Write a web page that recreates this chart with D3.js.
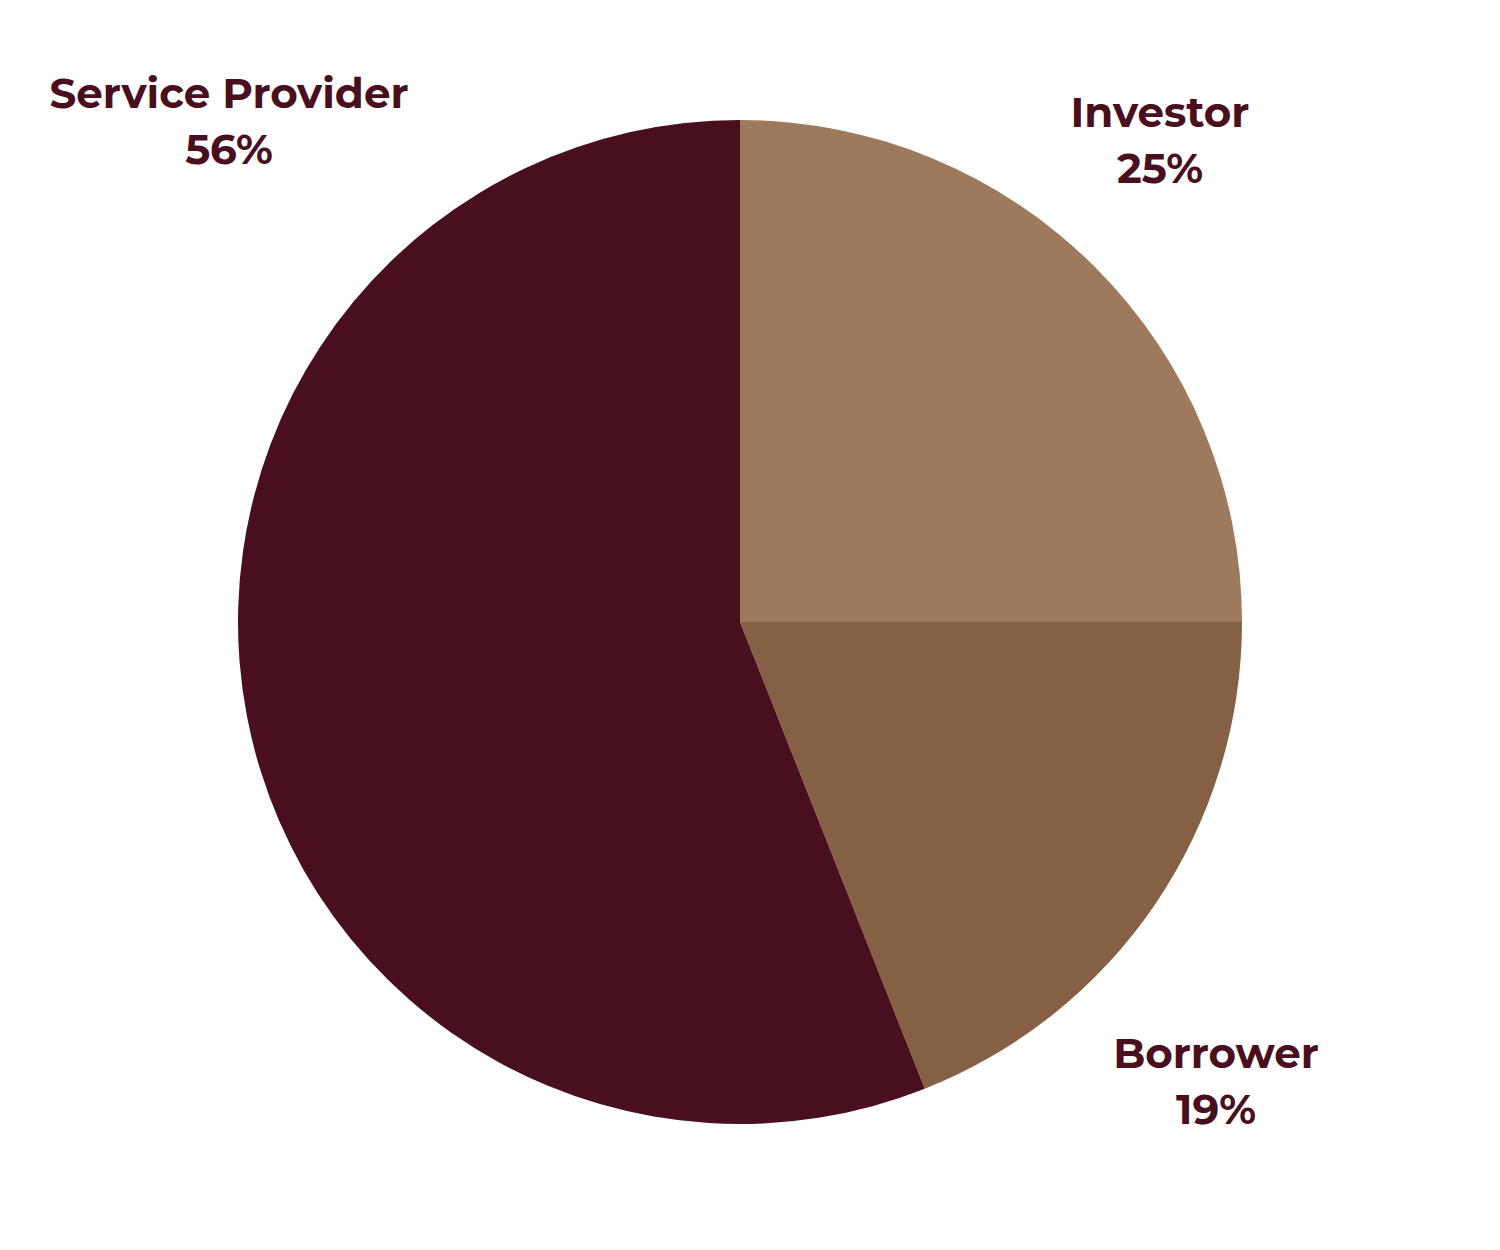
<!DOCTYPE html>
<html><head><meta charset="utf-8">
<script src="https://cdn.jsdelivr.net/npm/d3@7/dist/d3.min.js"></script>
<style>html,body{margin:0;padding:0;background:#fff;}</style>
</head><body>
<svg id="chart" width="1500" height="1250"></svg>
<script>
const categories = ["Investor", "Borrower", "Service Provider"];
const values = [25, 19, 56];
const colors = ["#9d7a5e", "#856045", "#4a0f1f"];

const svg = d3.select("#chart");
const cx = 740, cy = 622, R = 502;
const g = svg.append("g").attr("transform", `translate(${cx},${cy})`);

const pie = d3.pie().sort(null).value(d => d.v);
const arcs = pie(categories.map((c, i) => ({c, v: values[i], col: colors[i]})));
const arc = d3.arc().innerRadius(0).outerRadius(R);

g.selectAll("path").data(arcs).enter().append("path")
  .attr("d", arc).attr("fill", d => d.data.col);

// label anchor positions (layout, relative to page)
const labelPos = {
  "Investor": [1160, 127],
  "Borrower": [1216, 1068],
  "Service Provider": [229, 108]
};
const lbl = svg.append("g").attr("font-family", "Montserrat, 'Open Sans', sans-serif")
  .attr("font-weight", 700).attr("font-size", 42).attr("fill", "#4a0f1f")
  .attr("text-anchor", "middle");
arcs.forEach(d => {
  const [x, y] = labelPos[d.data.c];
  lbl.append("text").attr("x", x).attr("y", y).text(d.data.c);
  lbl.append("text").attr("x", x).attr("y", y + 56).text(d3.format(".0f")(d.data.v) + "%");
});
</script>
</body></html>
